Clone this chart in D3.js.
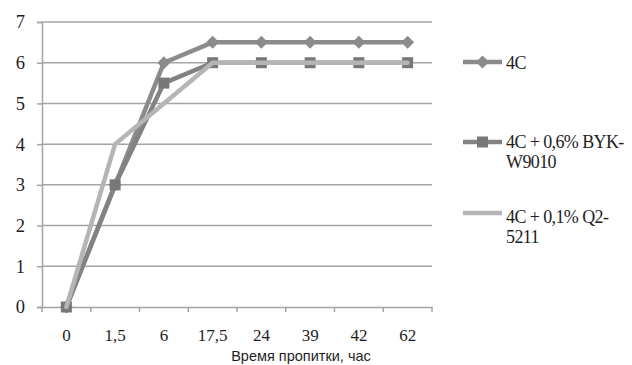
<!DOCTYPE html>
<html>
<head>
<meta charset="utf-8">
<script src="https://cdn.jsdelivr.net/npm/d3@7"></script>
<style>
  html, body { margin: 0; padding: 0; background: #fff; }
  svg { display: block; }
</style>
</head>
<body>
<svg id="chart" width="632" height="365"></svg>
<script>
// Impregnation time categories (hours) and series values
const categories = ["0", "1,5", "6", "17,5", "24", "39", "42", "62"];
const series4C   = [0, 3, 6, 6.5, 6.5, 6.5, 6.5, 6.5];
const seriesBYK  = [0, 3, 5.5, 6, 6, 6, 6, 6];
const seriesQ2   = [0, 4, 5, 6, 6, 6, 6, 6];
const yTicks     = [0, 1, 2, 3, 4, 5, 6, 7];
const seriesNames = [["4C"], ["4C + 0,6% BYK-", "W9010"], ["4C + 0,1% Q2-", "5211"]];
const xTitle = "Время пропитки, час";

const serif = "'Liberation Serif', 'Times New Roman', 'DejaVu Serif', serif";
const sans = "'Liberation Sans', Arial, sans-serif";

const svg = d3.select("#chart");
const plot = { left: 42, right: 432, top: 22, bottom: 307 };

const x = d3.scaleBand().domain(categories).range([plot.left, plot.right]);
const y = d3.scaleLinear().domain([0, 7]).range([plot.bottom, plot.top]);

const gridColor = "#a4a4a6";
const textColor = "#1e1e1e";

// Horizontal gridlines
svg.append("g")
  .selectAll("line")
  .data(yTicks.filter(d => d > 0))
  .join("line")
  .attr("x1", plot.left).attr("x2", plot.right)
  .attr("y1", d => y(d)).attr("y2", d => y(d))
  .attr("stroke", gridColor).attr("stroke-width", 1.5);

// Y axis
const yAxis = svg.append("g")
  .attr("transform", `translate(${plot.left},0)`)
  .call(d3.axisLeft(y).tickValues(yTicks).tickSize(5).tickPadding(12).tickFormat(d3.format("d")));
yAxis.attr("font-family", null).attr("font-size", null);
yAxis.select(".domain").attr("stroke", gridColor).attr("stroke-width", 1.5);
yAxis.selectAll(".tick line").attr("stroke", gridColor).attr("stroke-width", 1.5);
yAxis.selectAll(".tick text")
  .style("font-family", serif).style("font-size", "18.5px").attr("fill", textColor);

// X axis with ticks between categories
const xAxis = svg.append("g")
  .attr("transform", `translate(0,${plot.bottom})`)
  .call(d3.axisBottom(x).tickSize(0).tickPadding(22));
xAxis.attr("font-family", null).attr("font-size", null);
xAxis.select(".domain").attr("stroke", gridColor).attr("stroke-width", 1.5);
xAxis.selectAll(".tick text")
  .style("font-family", serif).style("font-size", "17px").attr("fill", textColor).attr("dy", "0.71em");
const edges = categories.map(c => x(c)).concat([plot.right]);
xAxis.append("g").selectAll("line")
  .data(edges)
  .join("line")
  .attr("x1", d => d).attr("x2", d => d)
  .attr("y1", 0).attr("y2", 5)
  .attr("stroke", gridColor).attr("stroke-width", 1.5);

// X axis title
svg.append("text")
  .attr("x", 301).attr("y", 361)
  .attr("text-anchor", "middle")
  .style("font-family", sans)
  .style("font-size", "14.5px")
  .attr("fill", textColor)
  .text(xTitle);

const cx = c => x(c) + x.bandwidth() / 2;
const line = vals => d3.line().x((d, i) => cx(categories[i])).y(d => y(d))(vals);

const styles = [
  { values: series4C,  color: "#8b8b8d", marker: "diamond", markerColor: "#8b8b8d" },
  { values: seriesBYK, color: "#828284", marker: "square",  markerColor: "#78787a" },
  { values: seriesQ2,  color: "#b5b5b7", marker: "none",    markerColor: "#b5b5b7" }
];

const diamondPath = s => `M0,${-s}L${s},0L0,${s}L${-s},0Z`;

function drawMarker(g, kind, color) {
  if (kind === "diamond") {
    g.append("path").attr("d", diamondPath(6.5)).attr("fill", color);
  } else if (kind === "square") {
    g.append("rect").attr("x", -5.5).attr("y", -5.5).attr("width", 11).attr("height", 11).attr("fill", color);
  }
}

styles.forEach(s => {
  const g = svg.append("g");
  g.append("path")
    .attr("d", line(s.values))
    .attr("fill", "none")
    .attr("stroke", s.color)
    .attr("stroke-width", 4.5)
    .attr("stroke-linejoin", "round")
    .attr("stroke-linecap", "round");
  s.values.forEach((v, i) => {
    const m = g.append("g").attr("transform", `translate(${cx(categories[i])},${y(v)})`);
    drawMarker(m, s.marker, s.markerColor);
  });
});

// Legend
const legendRows = [
  { y: 62,  textY: 69 },
  { y: 142, textY: 148 },
  { y: 213, textY: 223 }
];
styles.forEach((s, i) => {
  const row = legendRows[i];
  const g = svg.append("g");
  g.append("line")
    .attr("x1", 463).attr("x2", 502)
    .attr("y1", row.y).attr("y2", row.y)
    .attr("stroke", s.color).attr("stroke-width", 4.5);
  const m = g.append("g").attr("transform", `translate(482.5,${row.y})`);
  drawMarker(m, s.marker, s.markerColor);
  const t = g.append("text")
    .attr("x", 506).attr("y", row.textY)
    .style("font-family", serif)
    .style("font-size", "18px")
    .style("letter-spacing", "-0.6px")
    .attr("fill", textColor);
  seriesNames[i].forEach((ln, k) => {
    t.append("tspan").attr("x", 506).attr("dy", k === 0 ? 0 : 20).text(ln);
  });
});
</script>
</body>
</html>
